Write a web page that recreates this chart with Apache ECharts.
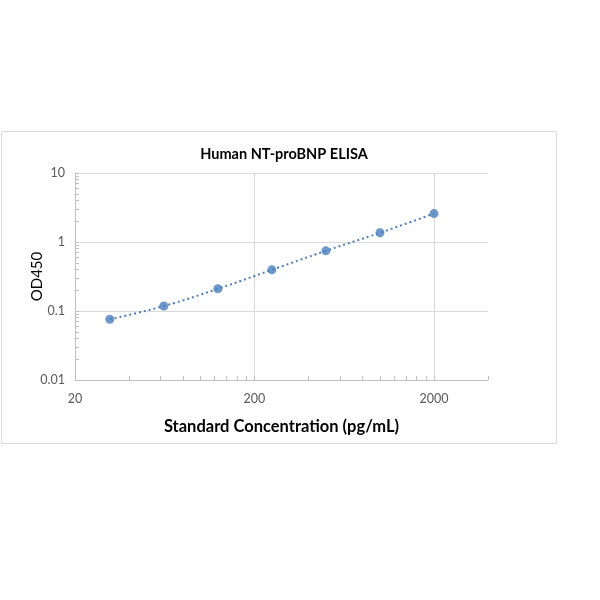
<!DOCTYPE html>
<html><head><meta charset="utf-8">
<script src="https://cdn.jsdelivr.net/npm/echarts@6/dist/echarts.min.js"></script>
<style>html,body{margin:0;padding:0;background:#fff}#c{width:600px;height:600px}</style>
</head><body><div id="c"></div>
<script>
const concentrations = [31.25, 62.5, 125, 250, 500, 1000, 2000];
const od450 = [0.076, 0.118, 0.21, 0.395, 0.745, 1.36, 2.58];
const xLabels = [20, 200, 2000];
const xMinorTicks = [20,40,60,80,100,120,140,160,180,200,400,600,800,1000,1200,1400,1600,1800,2000,4000];
const yLabels = [0.01, 0.1, 1, 10];
const yMinorTicks = [0.01,0.02,0.03,0.04,0.05,0.06,0.07,0.08,0.09,0.1,0.2,0.3,0.4,0.5,0.6,0.7,0.8,0.9,1,2,3,4,5,6,7,8,9,10];

const points = concentrations.map((c, i) => [c, od450[i]]);
const blue = '#4a7ebb';
const font = 'Lato, "Open Sans", sans-serif';

const chart = echarts.init(document.getElementById('c'));
chart.setOption({
  animation: false,
  graphic: [{type:'rect', shape:{x:1.5,y:131.5,width:555,height:312}, style:{fill:'none', stroke:'#d9d9d9', lineWidth:1}, z:-1}],
  title: {text:'Human NT-proBNP ELISA', left:279, top:142, textAlign:'center',
    textStyle:{fontFamily:font, fontSize:14.5, fontWeight:'bold', color:'#000'}},
  grid: {left:75, top:173, right:112, bottom:220, containLabel:false},
  xAxis: [{
    type:'log', logBase:10, min:20, max:4000, position:'bottom',
    name:'Standard Concentration (pg/mL)', nameLocation:'middle', nameGap:38,
    nameTextStyle:{fontFamily:font, fontSize:16.5, fontWeight:'bold', color:'#000'},
    axisLine:{lineStyle:{color:'#bfbfbf'}},
    axisTick:{show:false, customValues:xLabels},
    axisLabel:{customValues:xLabels, fontFamily:font, fontSize:12.5, color:'#595959', margin:12,
      formatter: v => String(Math.round(v))},
    splitLine:{show:true, lineStyle:{color:'#d9d9d9'}},
  },{
    type:'log', logBase:10, min:20, max:4000, position:'bottom',
    axisLine:{show:false},
    axisTick:{show:true, inside:true, length:4, customValues:xMinorTicks, lineStyle:{color:'#bfbfbf'}},
    axisLabel:{show:false},
    splitLine:{show:false}
  }],
  yAxis: [{
    type:'log', logBase:10, min:0.01, max:10,
    name:'OD450', nameLocation:'middle', nameGap:30, nameRotate:90, nameMoveOverlap:false,
    nameTextStyle:{fontFamily:font, fontSize:15, color:'#000'},
    axisLine:{show:true, lineStyle:{color:'#bfbfbf'}},
    axisTick:{show:false},
    axisLabel:{fontFamily:font, fontSize:12.5, color:'#595959', margin:10,
      formatter: v => String(+v.toPrecision(3))},
    splitLine:{show:true, lineStyle:{color:'#d9d9d9'}}
  },{
    type:'log', logBase:10, min:0.01, max:10, position:'left',
    axisLine:{show:false},
    axisTick:{show:true, inside:true, length:4, customValues:yMinorTicks, lineStyle:{color:'#bfbfbf'}},
    axisLabel:{show:false},
    splitLine:{show:false}
  }],
  series: [{
    type:'line', data:points, smooth:true, symbol:'none',
    lineStyle:{color:blue, width:2, type:[2,3]}, z:2
  },{
    type:'scatter', data:points, symbol:'circle', symbolSize:9,
    itemStyle:{color:blue}, z:3
  }]
});
</script></body></html>
